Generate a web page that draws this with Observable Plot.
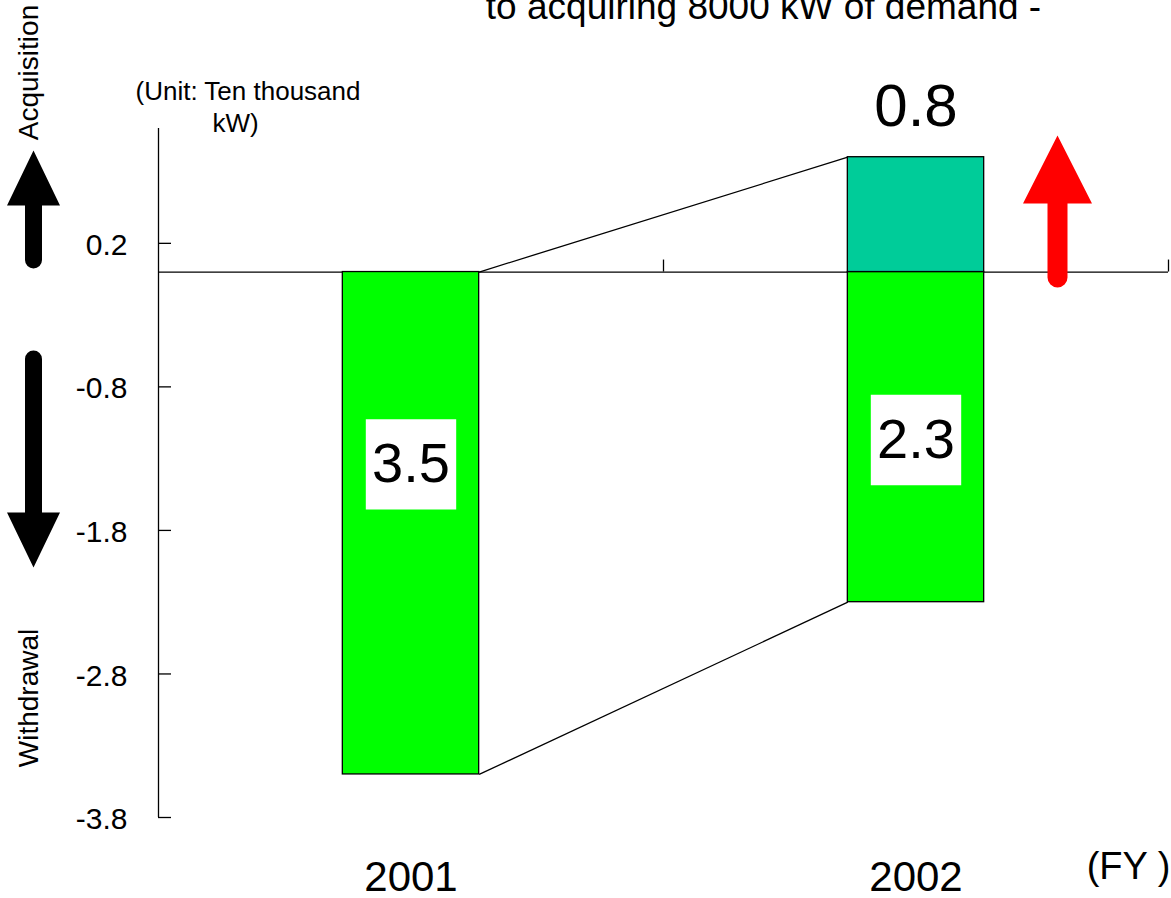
<!DOCTYPE html>
<html><head><meta charset="utf-8">
<script src="https://cdn.jsdelivr.net/npm/d3@7"></script>
<script src="https://cdn.jsdelivr.net/npm/@observablehq/plot@0.6"></script>
<style>
html,body{margin:0;padding:0;background:#fff;}
#chart{width:1171px;height:898px;overflow:hidden;}
</style></head><body><div id="chart"></div>
<script>
// ---- data ----
const years = ["2001", "2002"];
const withdrawal = [3.5, 2.3];          // ten thousand kW (drawn downward)
const acquisition = [0, 0.8];           // ten thousand kW (drawn upward)
const yTicks = [0.2, -0.8, -1.8, -2.8, -3.8];
const boxLabelAt = [-1.34, -1.17];      // where the boxed withdrawal labels sit
const titleText = "to acquiring 8000 kW of demand -";
const unitLines = ["(Unit: Ten thousand", "kW)"];
const fyLabel = "(FY )";
const sideLabels = ["Acquisition", "Withdrawal"];

// ---- derived tables ----
const barW = 0.27;
const rows = years.map((year, i) => ({
  year, mid: i + 0.5, x1: i + 0.5 - barW / 2, x2: i + 0.5 + barW / 2,
  w: withdrawal[i], a: acquisition[i], labelAt: boxLabelAt[i]
}));
const links = [
  {x1: rows[0].x2, x2: rows[1].x1, y1: rows[0].a, y2: rows[1].a},
  {x1: rows[0].x2, x2: rows[1].x1, y1: -rows[0].w, y2: -rows[1].w}
];
const acqRows = rows.filter(d => d.a > 0);

function thickArrow(shaftW, headW, headL) {
  return {
    draw(ctx, l) {
      const s = shaftW / 2, h = headW / 2, b = -(l - headL);
      ctx.moveTo(-s, 0);
      ctx.lineTo(-s, b);
      ctx.lineTo(-h, b);
      ctx.lineTo(0, -l);
      ctx.lineTo(h, b);
      ctx.lineTo(s, b);
      ctx.lineTo(s, 0);
      ctx.arc(0, 0, s, 0, Math.PI);
      ctx.closePath();
    }
  };
}

const font = "Liberation Sans, Arial, Helvetica, sans-serif";
const C = {textAnchor: "middle", lineAnchor: "middle", fill: "black"};

const chart = Plot.plot({
  width: 1171,
  height: 898,
  marginLeft: 158,
  marginRight: 3,
  marginTop: 128,
  marginBottom: 81,
  x: {domain: [0, 2], axis: null},
  y: {domain: [-3.8, 1.0], axis: null},
  style: {fontFamily: font, background: "white"},
  marks: [
    // zero line
    Plot.ruleY([0], {stroke: "black", strokeWidth: 1.3}),
    // y axis line
    Plot.ruleX([0], {stroke: "black", strokeWidth: 1.3}),
    // y ticks (inward)
    Plot.ruleY(yTicks, {y: d => d, x1: 0, x2: 0, insetLeft: -6.5, insetRight: -6.5, dx: 6.5, stroke: "black", strokeWidth: 1.3}),
    // x ticks at category boundaries
    Plot.ruleX([1, 2], {x: d => d, y1: 0, y2: 0, insetTop: -6, insetBottom: -6, dy: -6, stroke: "black", strokeWidth: 1.3}),
    // y tick labels
    Plot.text(yTicks, {y: d => d, text: d => String(d), frameAnchor: "left", dx: -31, dy: 2, textAnchor: "end", lineAnchor: "middle", fontSize: 30, fill: "black"}),
    // connecting lines
    Plot.link(links, {x1: "x1", y1: "y1", x2: "x2", y2: "y2", stroke: "black", strokeWidth: 1.3}),
    // withdrawal bars
    Plot.rectY(rows, {x1: "x1", x2: "x2", y1: 0, y2: d => -d.w, fill: "#00ff00", stroke: "black", strokeWidth: 1.3}),
    // acquisition bars
    Plot.rectY(acqRows, {x1: "x1", x2: "x2", y1: 0, y2: "a", fill: "#00cc99", stroke: "black", strokeWidth: 1.3}),
    // boxed withdrawal labels
    Plot.dot(rows, {x: "mid", y: "labelAt", symbol: "square", r: 51, fill: "white", stroke: "none"}),
    Plot.text(rows, {...C, x: "mid", y: "labelAt", text: d => String(d.w), fontSize: 56}),
    // acquisition value label
    Plot.text(acqRows, {...C, x: "mid", y: "a", text: d => String(d.a), dy: -50, fontSize: 60}),
    // year labels
    Plot.text(rows, {...C, x: "mid", text: "year", frameAnchor: "bottom", dy: 60, fontSize: 42}),
    Plot.text([fyLabel], {...C, text: d => d, frameAnchor: "bottom-right", dx: -40, dy: 49, fontSize: 38}),
    // title (partly cut off at top)
    Plot.text([titleText], {...C, text: d => d, frameAnchor: "top", dx: 100, dy: -121, fontSize: 37}),
    // unit label
    Plot.text([unitLines[0]], {...C, text: d => d, frameAnchor: "top-left", dx: 89.5, dy: -37, fontSize: 26}),
    Plot.text([unitLines[1]], {...C, text: d => d, frameAnchor: "top-left", dx: 77, dy: -5, fontSize: 26}),
    // side labels
    Plot.text([sideLabels[0]], {...C, text: d => d, frameAnchor: "top-left", dx: -129, dy: -56, rotate: -90, fontSize: 28}),
    Plot.text([sideLabels[1]], {...C, text: d => d, frameAnchor: "top-left", dx: -129, dy: 569.5, rotate: -90, fontSize: 28}),
    // big arrows
    Plot.vector([0], {frameAnchor: "top-left", dx: -125, dy: 131.5, length: 109.5, anchor: "start", shape: thickArrow(17, 53, 55), fill: "black", stroke: "none"}),
    Plot.vector([0], {frameAnchor: "top-left", dx: -125, dy: 230.5, length: 208.5, rotate: 180, anchor: "start", shape: thickArrow(17, 53, 55), fill: "black", stroke: "none"}),
    Plot.vector([0], {frameAnchor: "top-right", dx: -111, dy: 149, length: 142, anchor: "start", shape: thickArrow(20, 69, 68), fill: "#ff0000", stroke: "none"})
  ]
});
document.getElementById("chart").appendChild(chart);
</script>
</body></html>
